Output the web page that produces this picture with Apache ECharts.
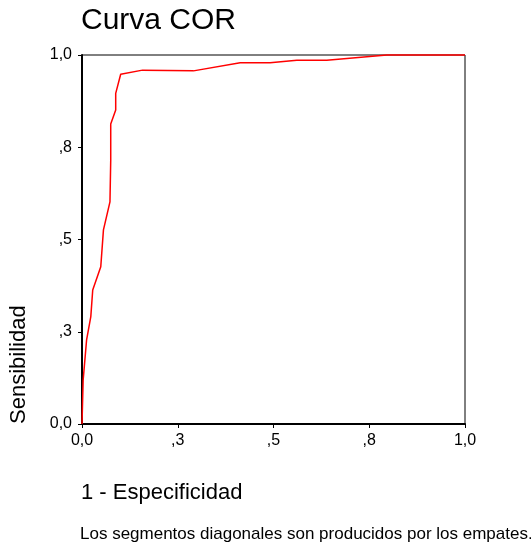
<!DOCTYPE html>
<html><head><meta charset="utf-8">
<script src="https://cdn.jsdelivr.net/npm/echarts@6/dist/echarts.min.js"></script>
<style>html,body{margin:0;padding:0;background:#fff}#c{width:531px;height:546px}</style>
</head><body><div id="c"></div>
<script>
const fpr = [0, 0.003, 0.012, 0.023, 0.028, 0.049, 0.056, 0.073, 0.075, 0.075, 0.088, 0.088, 0.101, 0.158, 0.291, 0.413, 0.491, 0.561, 0.639, 0.796, 1.0];
const tpr = [0, 0.119, 0.228, 0.291, 0.363, 0.426, 0.526, 0.602, 0.715, 0.813, 0.851, 0.896, 0.948, 0.959, 0.957, 0.979, 0.979, 0.986, 0.986, 1.0, 1.0];
const tickValues = [0, 0.25, 0.5, 0.75, 1.0];
const tickLabels = ['0,0', ',3', ',5', ',8', '1,0'];
const titleText = 'Curva COR';
const xName = '1 - Especificidad';
const yName = 'Sensibilidad';
const footnote = 'Los segmentos diagonales son producidos por los empates.';

const fmt = v => { const i = tickValues.findIndex(t => Math.abs(t - v) < 1e-6); return i >= 0 ? tickLabels[i] : ''; };
const font = 'Liberation Sans, Arial, sans-serif';
const chart = echarts.init(document.getElementById('c'), null, {renderer: 'canvas'});
chart.setOption({
  animation: false,
  backgroundColor: '#fff',
  grid: {left: 82, right: 66, top: 55, bottom: 122, show: true, borderColor: '#000', borderWidth: 1, containLabel: false},
  xAxis: {type: 'value', min: 0, max: 1, interval: 0.25,
    axisLine: {show: true, lineStyle: {color: '#000', width: 2}},
    axisTick: {show: true, length: 4, lineStyle: {color: '#000'}},
    splitLine: {show: false},
    axisLabel: {formatter: fmt, color: '#000', fontSize: 16, fontFamily: font, margin: 9}},
  yAxis: {type: 'value', min: 0, max: 1, interval: 0.25,
    axisLine: {show: true, lineStyle: {color: '#000', width: 2}},
    axisTick: {show: true, length: 4, lineStyle: {color: '#000'}},
    splitLine: {show: false},
    axisLabel: {formatter: fmt, color: '#000', fontSize: 16, fontFamily: font, margin: 10}},
  graphic: [
    {type: 'text', left: 81, top: 6, style: {text: titleText, fontSize: 30, fontFamily: font, fill: '#000'}},
    {type: 'text', left: 81, top: 482, style: {text: xName, fontSize: 22, fontFamily: font, fill: '#000'}},
    {type: 'text', left: 80, top: 526, style: {text: footnote, fontSize: 17, fontFamily: font, fill: '#000'}},
    {type: 'text', x: 8, y: 424, rotation: Math.PI / 2, style: {text: yName, fontSize: 22, fontFamily: font, fill: '#000', align: 'left', verticalAlign: 'top'}}
  ],
  series: [{type: 'line', data: fpr.map((x, i) => [x, tpr[i]]), showSymbol: false, symbol: 'none',
    lineStyle: {color: '#ff0000', width: 1.5}, clip: false}]
});
</script></body></html>
